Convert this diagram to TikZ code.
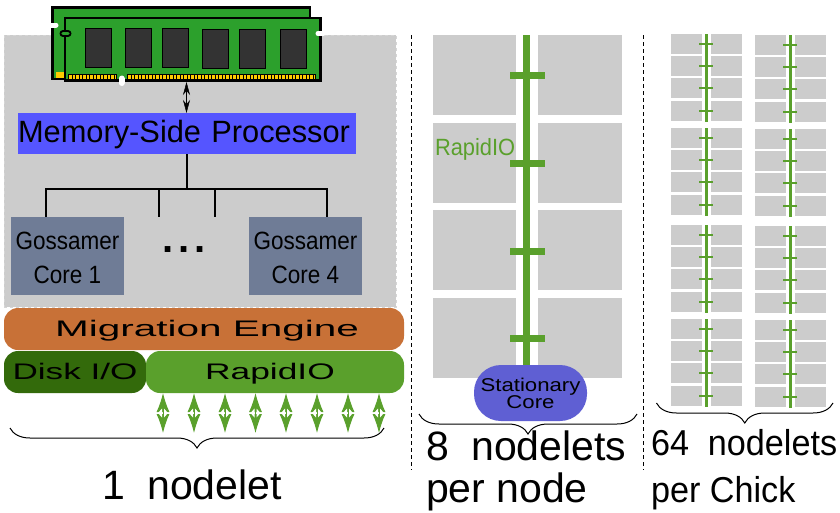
\documentclass[tikz,border=0pt]{standalone}
\usepackage{fontspec}
\setmainfont{Liberation Sans}
\usetikzlibrary{arrows.meta,decorations.pathreplacing}
\definecolor{ramgreen}{HTML}{2CA02C}
\definecolor{chipgray}{HTML}{333333}
\definecolor{gold}{HTML}{FFCC00}
\definecolor{blockgray}{HTML}{CCCCCC}
\definecolor{procblue}{HTML}{5555FF}
\definecolor{coreslate}{HTML}{6F7C96}
\definecolor{rust}{HTML}{C87137}
\definecolor{darkgreen}{HTML}{336A0B}
\definecolor{linkgreen}{HTML}{5AA02C}
\definecolor{statblue}{HTML}{5F5FD3}
\newcommand{\wide}[2]{\scalebox{#1}[1]{#2}}
\begin{document}
\begin{tikzpicture}[x=1pt, y=-1pt, every node/.style={inner sep=0pt, outer sep=0pt}]

\tikzstyle{ram}=[draw=black, line width=2.6pt, fill=ramgreen]
\tikzstyle{chip}=[draw=black, line width=.8pt, fill=chipgray, anchor=north west, minimum width=26pt, minimum height=39pt]
\tikzstyle{notch}=[white, line width=5pt, line cap=round]
\tikzstyle{contact}=[gold, line width=4pt, dash pattern=on 2.6pt off .9pt]
\tikzstyle{corebox}=[fill=coreslate, anchor=north west, minimum width=113pt, minimum height=78pt, align=center, font=\fontsize{25}{34}\selectfont]
\tikzstyle{bar}=[anchor=north west, rounded corners=14pt, minimum height=42pt, text height=18pt, text depth=4pt, font=\fontsize{22.5}{26}\selectfont]
\tikzstyle{bus}=[black, line width=2pt]
\tikzstyle{link}=[linkgreen, line width=1pt, {Latex[length=19pt,width=13pt]}-{Latex[length=19pt,width=13pt]}]
\tikzstyle{cell}=[fill=blockgray, anchor=north west, minimum width=83pt, minimum height=80pt]
\tikzstyle{smallcell}=[fill=blockgray, anchor=north west, minimum width=31pt, minimum height=20pt]
\tikzstyle{under}=[decorate, decoration={brace, mirror, amplitude=20pt}, line width=1pt]
\tikzstyle{caption}=[anchor=base west, font=\fontsize{41}{41}\selectfont]
\tikzstyle{divider}=[black, line width=1pt, dash pattern=on 4pt off 3pt]

\useasboundingbox (0,0) rectangle (840,512);

\node[fill=blockgray, draw=blockgray!80!white, dashed, anchor=north west, minimum width=392pt, minimum height=272pt] (nodelet) at (4,35) {};

\draw[ram] (52.5,7.5) rectangle (310,79);
\fill[gold] (56,72) rectangle (66,78);
\draw[ram] (65,18) rectangle (320.5,80.5);
\foreach \cx/\cy in {85/28, 125/28, 162.5/28.5, 202.5/29, 239.5/29.5, 280/29}
	\node[chip] at (\cx,\cy) {};
\fill[black] (68,73.5) rectangle (117,80);
\fill[black] (127,73.5) rectangle (316,80);
\draw[contact] (69,77) -- (116,77);
\draw[contact] (128,76.5) -- (315,76.5);
\draw[notch] (50,25) -- (56,25);
\draw[black, line width=7pt, line cap=round] (63,33.5) -- (68,33.5);
\draw[ramgreen, line width=3.5pt, line cap=round] (63,33.5) -- (68,33.5);
\draw[notch] (318,33.5) -- (323,33.5);
\draw[notch, line width=6pt] (121.5,78.5) -- (121.5,83);

\node[fill=procblue, anchor=north west, minimum width=338pt, minimum height=41pt, text width=338pt, align=left, text height=25pt, text depth=7pt, font=\fontsize{30.8}{33}\selectfont] (proc) at (18,113) {Memory-Side Processor};
\coordinate (ramport) at (186.5,82);
\draw[black, line width=.5pt, {Stealth[length=13pt,width=7pt]}-{Stealth[length=13pt,width=7pt]}] (ramport) -- (proc.north -| ramport);

\node[corebox] (core1) at (11,217) {\rule{0pt}{22pt}\wide{.9}{Gossamer}\\\wide{.9}{Core 1}};
\node[corebox] (core4) at (249,217) {\rule{0pt}{22pt}\wide{.9}{Gossamer}\\\wide{.9}{Core 4}};
\node[anchor=base, font=\bfseries\fontsize{40}{40}\selectfont] (dots) at (184,252) {\addfontfeature{LetterSpace=12}...};

\coordinate (busmid) at (186.5,188.5);
\coordinate (stub1) at (46,217);
\coordinate (stub2) at (158.5,217);
\coordinate (stub3) at (214.5,217);
\coordinate (stub4) at (327,217);
\draw[bus] (proc.south -| busmid) -- (busmid);
\draw[bus] (stub1) -- (stub1 |- busmid) -- (stub4 |- busmid) -- (stub4);
\draw[bus] (stub2 |- busmid) -- (stub2);
\draw[bus] (stub3 |- busmid) -- (stub3);

\node[bar, fill=rust, minimum width=400pt] (migrate) at (4,308) {\hspace*{6pt}\wide{1.8}{Migration Engine}};
\node[bar, fill=darkgreen, minimum width=142pt] (disk) at (4,351) {\wide{1.56}{Disk I/O}};
\node[bar, fill=linkgreen, minimum width=258pt] (rapid) at (146,351) {\wide{1.57}{RapidIO}\hspace*{10pt}};

\foreach \lx in {163,194,225,255.5,286,317,348,379}{
	\coordinate (top) at (\lx,393);
	\coordinate (bot) at (\lx,433);
	\draw[link] (top) -- (bot);
	\fill[white] (\lx-1,408.5) -- (\lx-5,413) -- (\lx-1,417.5) -- cycle;
	\fill[white] (\lx+1,408.5) -- (\lx+5,413) -- (\lx+1,417.5) -- cycle;
}

\coordinate (b1l) at (10,428);
\coordinate (b1r) at (384,428);
\draw[under] (b1l) -- (b1r);
\node[caption] (cap1) at (102,499) {1\hspace{.55em}nodelet};

\coordinate (d1t) at (411,35);
\coordinate (d1b) at (411,470);
\coordinate (d2t) at (643,35);
\coordinate (d2b) at (643,470);
\draw[divider] (d1t) -- (d1b);
\draw[divider] (d2t) -- (d2b);

\foreach \ry in {35,123,210,298}{
	\node[cell] at (433,\ry) {};
	\node[cell, minimum width=84pt] at (538,\ry) {};
}
\node[anchor=north west, fill=linkgreen, minimum width=7pt, minimum height=335pt] (spine) at (523,35) {};
\foreach \ry in {75,163,251,338}
	\node[fill=linkgreen, minimum width=35pt, minimum height=7pt] at (527.5,\ry) {};
\node[anchor=base west, text=linkgreen, font=\fontsize{23.5}{24}\selectfont] (rio) at (435,155) {\wide{.93}{RapidIO}};
\node[fill=statblue, rounded corners=27pt, minimum width=113pt, minimum height=56pt, align=center, font=\fontsize{18.5}{17}\selectfont] (stat) at (530.5,393) {\wide{1.2}{Stationary}\\\wide{1.2}{Core}};
\coordinate (b2l) at (419,414);
\coordinate (b2r) at (637,414);
\draw[under] (b2l) -- (b2r);
\node[caption] (cap2a) at (426,460) {8\hspace{.55em}nodelets};
\node[caption] (cap2b) at (426,502) {per node};

\foreach \gx/\dy in {671/0, 755/1}
	\foreach \gy in {34,128,225,319}{
		\foreach \k in {0,1,2,3}{
			\node[smallcell] at (\gx,\gy+\dy+22.2*\k) {};
			\node[smallcell] at (\gx+40,\gy+\dy+22.2*\k) {};
		}
		\node[fill=linkgreen, anchor=north west, minimum width=2.6pt, minimum height=88pt] at (\gx+34,\gy+\dy) {};
		\foreach \k in {0,1,2,3}
			\node[fill=linkgreen, minimum width=14pt, minimum height=2pt] at (\gx+35.3,\gy+\dy+10+22.2*\k) {};
	}
\coordinate (b3l) at (656.5,403);
\coordinate (b3r) at (833,403);
\draw[under] (b3l) -- (b3r);
\node[caption, font=\fontsize{36}{36}\selectfont] (cap3a) at (651,455) {\wide{.95}{64\hspace{.55em}nodelets}};
\node[caption, font=\fontsize{36}{36}\selectfont] (cap3b) at (651,502) {\wide{.95}{per Chick}};

\end{tikzpicture}
\end{document}
